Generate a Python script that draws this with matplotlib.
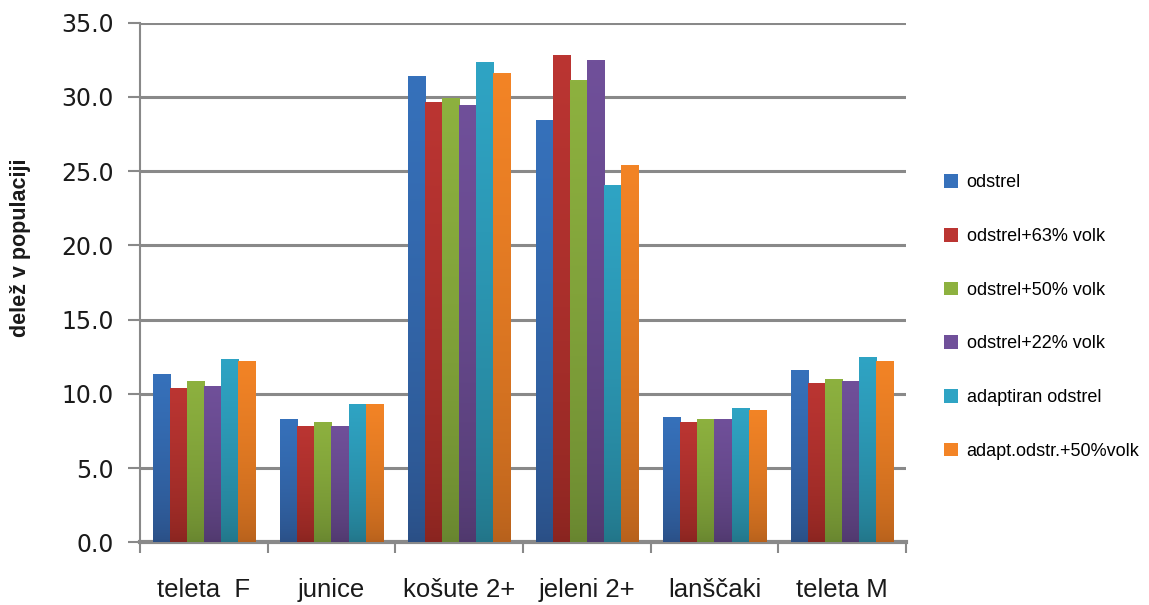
import numpy as np
import matplotlib.pyplot as plt
from matplotlib.colors import LinearSegmentedColormap
from matplotlib.patches import Patch

categories = ['teleta  F', 'junice', 'košute 2+', 'jeleni 2+', 'lanščaki', 'teleta M']
series_names = ['odstrel', 'odstrel+63% volk', 'odstrel+50% volk',
                'odstrel+22% volk', 'adaptiran odstrel', 'adapt.odstr.+50%volk']

odstrel = [11.33, 8.30, 31.40, 28.44, 8.44, 11.60]
odstrel_63 = [10.38, 7.83, 29.65, 32.80, 8.10, 10.72]
odstrel_50 = [10.85, 8.10, 29.94, 31.13, 8.30, 10.99]
odstrel_22 = [10.52, 7.83, 29.45, 32.47, 8.30, 10.86]
adaptiran = [12.34, 9.31, 32.34, 24.07, 9.04, 12.47]
adapt_50 = [12.20, 9.31, 31.60, 25.40, 8.90, 12.20]

series = [odstrel, odstrel_63, odstrel_50, odstrel_22, adaptiran, adapt_50]

# (top colour, bottom colour) for the shaded bars
shades = [('#3671bb', '#2a4e84'),
          ('#bb3532', '#88241f'),
          ('#8db13f', '#67842f'),
          ('#70509a', '#4f386c'),
          ('#2fa4c4', '#227487'),
          ('#f38426', '#b5601c')]

fig = plt.figure(figsize=(11.49, 6.05), dpi=100)
ax = fig.add_axes([140 / 1149, (605 - 542.3) / 605, 766 / 1149, (542.3 - 22.5) / 605])

n = len(series)
width = 0.8 / n
x = np.arange(len(categories))
grid_col = '#898989'
label_font = ['Liberation Sans', 'DejaVu Sans']

for i, (vals, (top, bottom)) in enumerate(zip(series, shades)):
    pos = x - 0.4 + width * (i + 0.5)
    bars = ax.bar(pos, vals, width=width, color=top, zorder=3, linewidth=0)
    cmap = LinearSegmentedColormap.from_list(f's{i}', [bottom, top])
    grad = np.linspace(0, 1, 256).reshape(-1, 1) ** 0.6
    for b in bars:
        bx, by = b.get_x(), b.get_y()
        im = ax.imshow(grad, cmap=cmap, origin='lower', aspect='auto',
                       extent=(bx, bx + b.get_width(), by, by + b.get_height()),
                       zorder=4)
        im.set_clip_path(b)

ax.set_xlim(-0.5, len(categories) - 0.5)
ax.set_ylim(0, 35)
ax.set_yticks(np.arange(0, 36, 5))
ax.set_yticklabels([f'{v:.1f}' for v in np.arange(0, 36, 5)],
                   fontsize=17, family='DejaVu Sans', color='#1a1a1a')
ax.yaxis.grid(True, color=grid_col, linewidth=2.2, zorder=1)
ax.set_axisbelow(True)

ax.set_xticks(x)
ax.set_xticklabels(categories, fontsize=18.5, family=label_font, color='#1a1a1a')
ax.set_xticks(np.arange(-0.5, len(categories), 1), minor=True)
ax.tick_params(axis='x', which='major', length=0, pad=26)
ax.tick_params(axis='x', which='minor', length=8, width=1.5, color=grid_col)
ax.tick_params(axis='y', length=9, width=1.5, color=grid_col, pad=10)

for side in ('top', 'right'):
    ax.spines[side].set_visible(False)
ax.spines['left'].set_color(grid_col)
ax.spines['left'].set_linewidth(1.5)
ax.spines['bottom'].set_color(grid_col)
ax.spines['bottom'].set_linewidth(3)

fig.text(21 / 1149, (605 - 248) / 605, 'delež v populaciji', rotation=90,
         ha='center', va='center', fontsize=15.5, fontweight='bold',
         family=label_font, color='#1a1a1a')

handles = [Patch(facecolor=top, edgecolor='none') for top, _ in shades]
fig.legend(handles, series_names, loc='center left',
           bbox_to_anchor=(944 / 1149, (605 - 317) / 605),
           frameon=False, borderpad=0, borderaxespad=0,
           handlelength=0.8, handleheight=0.8, handletextpad=0.45,
           labelspacing=2.02,
           prop={'family': label_font, 'size': 13})

fig.savefig('out.png', dpi=100)
